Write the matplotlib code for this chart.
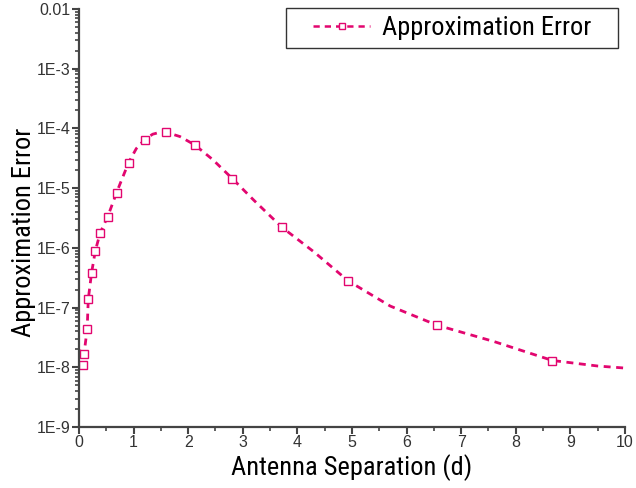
import matplotlib
matplotlib.use("Agg")
import matplotlib.pyplot as plt
from matplotlib.ticker import FixedLocator, LogLocator, MultipleLocator, NullFormatter
from matplotlib.legend_handler import HandlerLine2D
from matplotlib import font_manager

# marker points
sep = [0.07, 0.095, 0.15, 0.17, 0.23, 0.30, 0.39, 0.53, 0.69, 0.91,
       1.21, 1.60, 2.12, 2.81, 3.72, 4.93, 6.55, 8.67]
err = [1.11e-8, 1.65e-8, 4.4e-8, 1.38e-7, 3.8e-7, 9.0e-7, 1.8e-6, 3.3e-6, 8.3e-6, 2.67e-5,
       6.4e-5, 8.7e-5, 5.3e-5, 1.44e-5, 2.2e-6, 2.8e-7, 5.1e-8, 1.26e-8]

# dashed curve points
curve_x = [0.01, 0.095, 0.15, 0.17, 0.23, 0.30, 0.39, 0.53, 0.69, 0.91,
           1.05, 1.21, 1.35, 1.5, 1.60, 1.85, 2.12, 2.45, 2.81, 3.2, 3.72, 4.3, 4.93,
           5.7, 6.55, 7.6, 8.67, 9.5, 10.0]
curve_y = [1.9e-8, 1.75e-8, 4.4e-8, 1.38e-7, 3.8e-7, 9.0e-7, 1.8e-6, 3.4e-6, 8.5e-6, 2.7e-5,
           4.6e-5, 6.6e-5, 8.0e-5, 8.7e-5, 8.6e-5, 7.3e-5, 5.3e-5, 3.0e-5, 1.44e-5, 6.3e-6, 2.2e-6,
           8.6e-7, 2.8e-7, 1.06e-7, 5.1e-8, 2.7e-8, 1.3e-8, 1.05e-8, 9.7e-9]

ytick_vals = [1e-9, 1e-8, 1e-7, 1e-6, 1e-5, 1e-4, 1e-3, 1e-2]
ytick_labels = ["1E-9", "1E-8", "1E-7", "1E-6", "1E-5", "1E-4", "1E-3", "0.01"]

col = "#E2066F"
names = {f.name for f in font_manager.fontManager.ttflist}
narrow = [n for n in ["Liberation Sans Narrow", "DejaVu Sans Condensed", "Roboto Condensed"] if n in names]
label_font = narrow + ["Liberation Sans", "DejaVu Sans"]


class OffsetHandler(HandlerLine2D):
    # leave some empty room on the left of the legend handle
    def get_xdata(self, legend, xdescent, ydescent, width, height, fontsize):
        left = -xdescent + 0.25 * width
        right = -xdescent + width
        return [left, right], [(left + right) / 2]


fig = plt.figure(figsize=(6.36, 4.88), dpi=100)
ax = fig.add_axes([0.1242, 0.125, 0.8585, 0.8566])

ax.plot(curve_x, curve_y, color=col, lw=2, linestyle=(0, (2.5, 2)))
ax.plot(sep, err, linestyle="none", marker="s", markersize=6,
        markerfacecolor="white", markeredgecolor=col, markeredgewidth=1)
# legend proxy
proxy, = ax.plot([], [], color=col, lw=1.8, linestyle=(0, (2.5, 2)), marker="s", markersize=5,
                 markerfacecolor="white", markeredgecolor=col, markeredgewidth=1,
                 label="Approximation Error")

ax.set_yscale("log")
ax.set_xlim(0, 10)
ax.set_ylim(1e-9, 1e-2)

ax.xaxis.set_major_locator(MultipleLocator(1))
ax.xaxis.set_minor_locator(MultipleLocator(0.5))
ax.yaxis.set_major_locator(FixedLocator(ytick_vals))
ax.set_yticklabels(ytick_labels)
ax.yaxis.set_minor_locator(LogLocator(base=10, subs=range(2, 10), numticks=20))
ax.yaxis.set_minor_formatter(NullFormatter())

for s in ["top", "right"]:
    ax.spines[s].set_visible(False)
for s in ["left", "bottom"]:
    ax.spines[s].set_linewidth(1.6)
    ax.spines[s].set_color("#444444")

ax.tick_params(which="major", direction="out", length=5, width=1.5, color="#444444",
               labelsize=11.5, labelcolor="#333333", pad=1)
ax.tick_params(which="minor", direction="out", length=3, width=1.2, color="#444444")
for t in ax.get_xticklabels() + ax.get_yticklabels():
    t.set_family(["Liberation Sans", "DejaVu Sans"])

ax.set_xlabel("Antenna Separation (d)", fontsize=19, family=label_font, labelpad=3)
ax.set_ylabel("Approximation Error", fontsize=19, family=label_font)
ax.yaxis.set_label_coords(-0.078, 0.466)

leg = ax.legend(handles=[proxy], loc="upper left", bbox_to_anchor=(0.379, 0.0, 0.608, 1.0024),
                mode="expand", borderaxespad=0, frameon=True, fancybox=False,
                prop={"family": label_font, "size": 19}, handlelength=2.9,
                borderpad=0.3, handletextpad=0.45,
                handler_map={proxy: OffsetHandler()})
leg.get_frame().set_edgecolor("black")
leg.get_frame().set_linewidth(1.0)

fig.savefig("out.png", dpi=100)
